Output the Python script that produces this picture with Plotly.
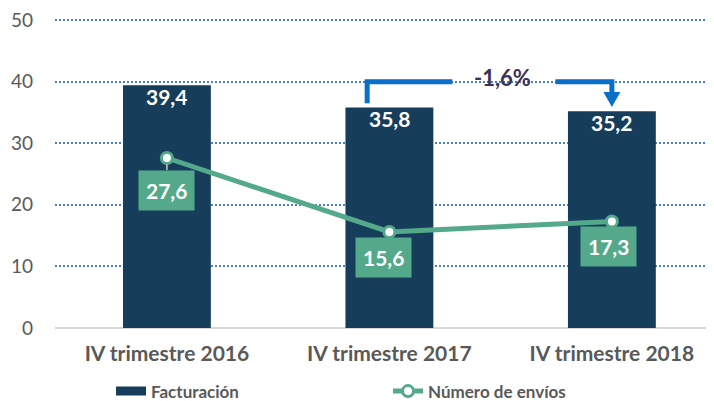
import plotly.graph_objects as go

categories = ["IV trimestre 2016", "IV trimestre 2017", "IV trimestre 2018"]
facturacion = [39.4, 35.8, 35.2]
envios = [27.6, 15.6, 17.3]
variation_label = "-1,6%"
y_ticks = [0, 10, 20, 30, 40, 50]

NAVY = "#163E5A"
GREEN = "#53A98A"
GREY_TXT = "#595959"
FONT = "Lato"

def fmt(v):
    return f"{v:.1f}".replace(".", ",")

fig = go.Figure()
fig.add_trace(go.Bar(
    x=categories, y=facturacion, name="Facturación",
    marker=dict(color=NAVY, line=dict(width=0)), width=0.395,
    showlegend=False, legendgroup="fact",
    hoverinfo="skip",
))
# legend entry for the bars drawn as a wide flat swatch
fig.add_trace(go.Scatter(
    x=[None], y=[None], name="Facturación", mode="lines",
    line=dict(color=NAVY, width=9), legendgroup="fact", hoverinfo="skip",
))
fig.add_trace(go.Scatter(
    x=categories, y=envios, name="Número de envíos", mode="lines+markers",
    line=dict(color=GREEN, width=5),
    marker=dict(size=11, color="white", line=dict(color=GREEN, width=3)),
    hoverinfo="skip",
))

# bar value labels
for c, v in zip(categories, facturacion):
    fig.add_annotation(x=c, y=v, xref="x", yref="y", text=fmt(v), showarrow=False,
                       yanchor="middle", yshift=-11,
                       font=dict(family=FONT, size=21, color="white", weight="bold"))

# labels for line points (green boxes)
shifts = [(0, 32, True), (-6, 26, False), (-3, 25, False)]
for c, v, (dx, dy, arrow) in zip(categories, envios, shifts):
    common = dict(x=c, y=v, xref="x", yref="y", text=fmt(v),
                  font=dict(family=FONT, size=21, color="white", weight="bold"),
                  bgcolor=GREEN, borderpad=7)
    if arrow:
        fig.add_annotation(**common, showarrow=True, ax=dx, ay=dy, arrowhead=0,
                           arrowcolor="#A6A6A6", arrowwidth=2, standoff=6)
    else:
        fig.add_annotation(**common, showarrow=False, xshift=dx, yshift=-dy)

# variation bracket between 2017 and 2018
BLUE = "#0A6FC8"
level = 40
y_left = facturacion[1] + 0.7
y_tip = facturacion[2] + 0.7
fig.add_shape(type="path", xref="x", yref="y",
              path=f"M 0.9,{y_left} L 0.9,{level} L 1.283,{level}",
              line=dict(color=BLUE, width=5))
fig.add_shape(type="path", xref="x", yref="y",
              path=f"M 1.746,{level} L 2,{level} L 2,{y_tip + 1.6}",
              line=dict(color=BLUE, width=5))
fig.add_shape(type="path", xref="x", yref="y", xsizemode="pixel", ysizemode="pixel",
              xanchor=2, yanchor=y_tip,
              path="M -8.5,15 L 8.5,15 L 0,0 Z",
              fillcolor=BLUE, line=dict(width=0))
fig.add_annotation(x=1.51, y=level, xref="x", yref="y", text=variation_label,
                   showarrow=False, yshift=4,
                   font=dict(family=FONT, size=22, color="#3D2F55", weight="bold"))

# page body keeps an 8px default margin, so the figure is sized/placed to compensate
fig.update_layout(
    width=706, height=393,
    margin=dict(l=47, r=0, t=10, b=73, autoexpand=False),
    paper_bgcolor="white", plot_bgcolor="white",
    showlegend=True,
    legend=dict(orientation="h", x=0.085, xanchor="left", y=-0.205, yanchor="middle",
                font=dict(family=FONT, size=17, color=GREY_TXT, weight="bold"),
                entrywidth=232, entrywidthmode="pixels", bgcolor="rgba(0,0,0,0)"),
)
fig.update_xaxes(type="category", range=[-0.503, 2.459], showgrid=False,
                 showline=False, ticks="", ticklabelstandoff=11, automargin=False,
                 tickfont=dict(family=FONT, size=21, color=GREY_TXT, weight="bold"))
fig.update_yaxes(range=[0, 50.33], tickvals=y_ticks, showgrid=True,
                 gridcolor="#4A7EC7", gridwidth=2, griddash="2px,2px",
                 zeroline=True, zerolinecolor="#D9D9D9", zerolinewidth=2,
                 showline=False, ticks="", ticklabelstandoff=21, automargin=False,
                 ticklabeloverflow="allow",
                 tickfont=dict(family=FONT, size=19, color=GREY_TXT))

fig.write_html("out.html")
